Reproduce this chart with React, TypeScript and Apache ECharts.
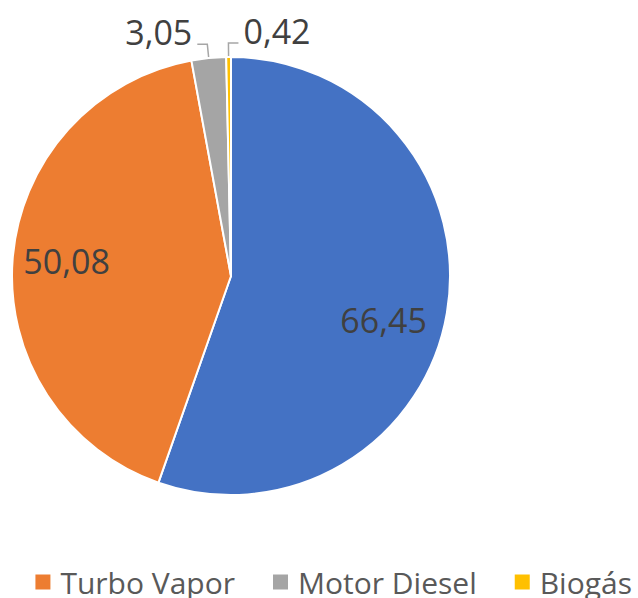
import React, { useEffect, useRef } from "react";
import * as echarts from "echarts";

const categories = ["Turbo Gás", "Turbo Vapor", "Motor Diesel", "Biogás"];
const values = [66.45, 50.08, 3.05, 0.42];
const colors = ["#4472C4", "#ED7D31", "#A5A5A5", "#FFC000"];
const insideLabel = [true, true, false, false];

const CX = 231;
const CY = 276;
const R = 219;
const INSIDE_K = 1.43;

export default function App() {
  const ref = useRef<HTMLDivElement>(null);
  useEffect(() => {
    if (!ref.current) return;
    const chart = echarts.init(ref.current, undefined, { renderer: "svg" });
    const last = values.length - 1;
    const data = categories.map((name, i) => ({
      name,
      value: values[i],
      itemStyle: { color: colors[i] },
      label: { position: insideLabel[i] ? "inside" : "outside" },
      labelLine: { show: !insideLabel[i] },
    }));
    chart.setOption({
      animation: false,
      legend: {
        orient: "horizontal",
        right: 6,
        top: 567,
        width: 1200,
        padding: 0,
        itemGap: 38,
        itemWidth: 15,
        itemHeight: 15,
        icon: "rect",
        itemStyle: { borderWidth: 0 },
        textStyle: {
          fontFamily: "Open Sans",
          fontSize: 30,
          color: "#595959",
          padding: [0, 0, 0, 5],
        },
        data: categories,
      },
      series: [
        {
          type: "pie",
          center: [CX, CY],
          radius: R,
          startAngle: 90,
          clockwise: true,
          avoidLabelOverlap: false,
          silent: true,
          itemStyle: { borderColor: "#ffffff", borderWidth: 2 },
          label: {
            fontFamily: "Open Sans",
            fontSize: 34,
            color: "#404040",
            formatter: (p: any) => p.value.toFixed(2).replace(".", ","),
          },
          labelLine: {
            length: 14,
            length2: 10,
            lineStyle: { color: "#A6A6A6", width: 1.5 },
          },
          labelLayout: (params: any) => {
            const i = params.dataIndex;
            if (insideLabel[i]) {
              const r = params.labelRect;
              const lx = r.x + r.width / 2;
              const ly = r.y + r.height / 2;
              const adj = i === 0 ? [-6, 17] : [-4, -2];
              return {
                x: CX + (lx - CX) * INSIDE_K + adj[0],
                y: CY + (ly - CY) * INSIDE_K + adj[1],
                align: "center",
                verticalAlign: "middle",
              };
            }
            const pts = params.labelLinePoints;
            if (!pts) return {};
            const p0 = pts[0];
            const p1 = pts[1];
            let p2 = pts[2];
            let toRight = p2[0] > p1[0];
            if (i === last) {
              p2 = [p1[0] + Math.abs(p1[0] - p2[0]), p1[1]];
              toRight = true;
            }
            return {
              x: p2[0] + (toRight ? 5 : -5),
              y: p1[1] - 12,
              align: toRight ? "left" : "right",
              verticalAlign: "middle",
              labelLinePoints: [p0, p1, p2],
            };
          },
          data,
        },
      ],
    });
    return () => chart.dispose();
  }, []);
  return (
    <div
      ref={ref}
      style={{ position: "fixed", left: 0, top: 0, width: 638, height: 598, background: "#fff" }}
    />
  );
}
